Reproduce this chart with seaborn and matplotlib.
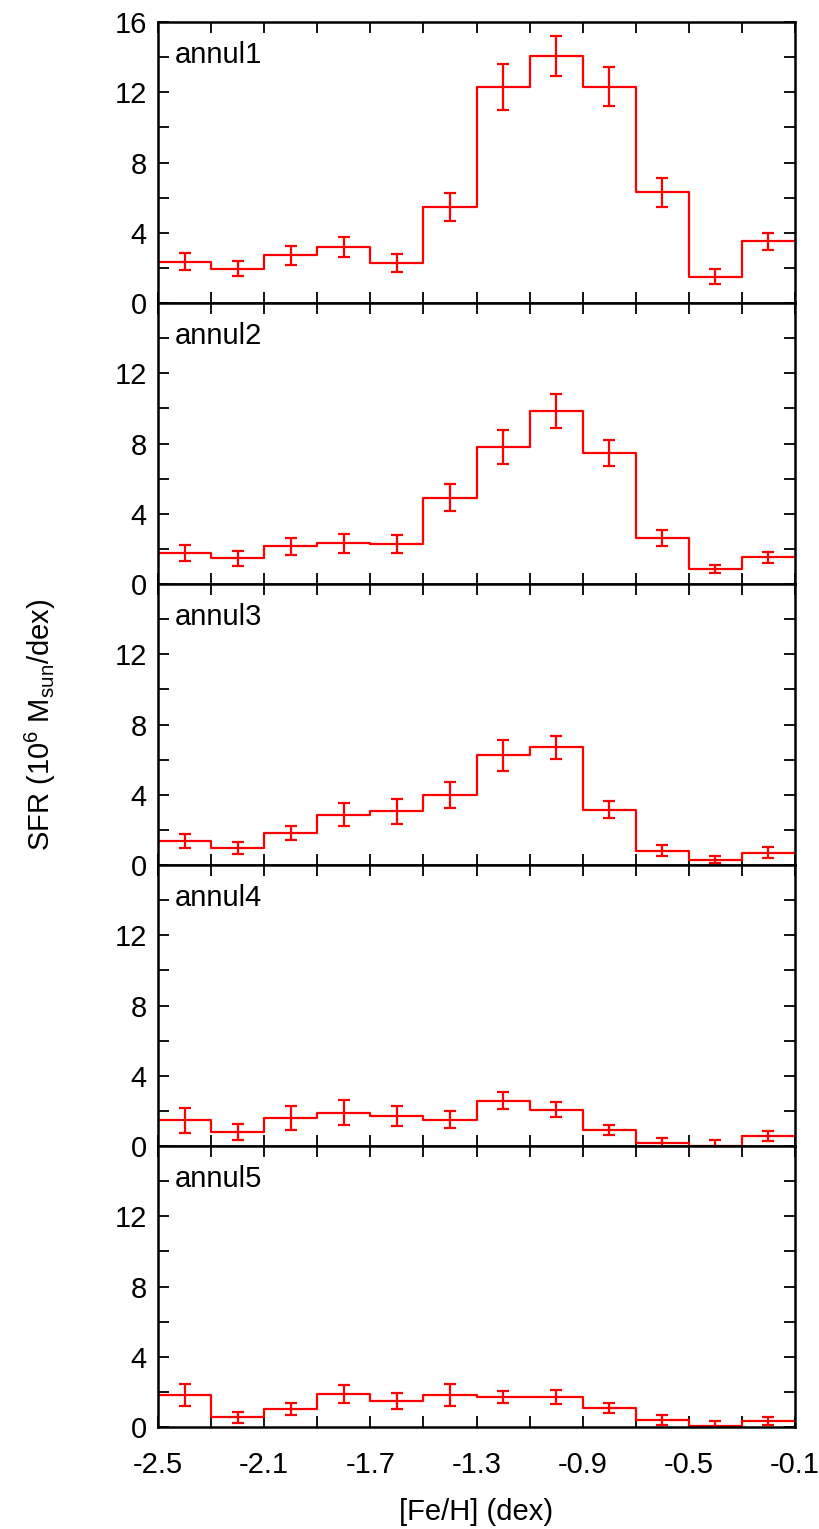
import numpy as np
import pandas as pd
import matplotlib
matplotlib.use("Agg")
import matplotlib.pyplot as plt
import seaborn as sns

# Metallicity bins ([Fe/H], dex)
bin_edges = [-2.5, -2.3, -2.1, -1.9, -1.7, -1.5, -1.3, -1.1, -0.9, -0.7, -0.5, -0.3, -0.1]
bin_centers = [-2.4, -2.2, -2.0, -1.8, -1.6, -1.4, -1.2, -1.0, -0.8, -0.6, -0.4, -0.2]

panel_names = ["annul1", "annul2", "annul3", "annul4", "annul5"]

# Star-formation rate per bin (1e6 Msun/dex) and 1-sigma errors
sfr_annul1 = [2.35, 1.95, 2.73, 3.19, 2.27, 5.48, 12.30, 14.05, 12.32, 6.30, 1.49, 3.51]
err_annul1 = [0.48, 0.43, 0.54, 0.56, 0.52, 0.79, 1.31, 1.14, 1.11, 0.83, 0.43, 0.49]

sfr_annul2 = [1.79, 1.47, 2.14, 2.31, 2.27, 4.91, 7.79, 9.85, 7.47, 2.63, 0.86, 1.53]
err_annul2 = [0.46, 0.43, 0.46, 0.53, 0.52, 0.76, 0.97, 0.97, 0.74, 0.44, 0.22, 0.32]

sfr_annul3 = [1.37, 0.97, 1.81, 2.86, 3.05, 3.99, 6.24, 6.70, 3.15, 0.82, 0.31, 0.69]
err_annul3 = [0.41, 0.32, 0.40, 0.65, 0.70, 0.73, 0.90, 0.67, 0.47, 0.31, 0.19, 0.31]

sfr_annul4 = [1.47, 0.80, 1.60, 1.90, 1.70, 1.50, 2.59, 2.06, 0.90, 0.17, 0.02, 0.57]
err_annul4 = [0.72, 0.46, 0.68, 0.71, 0.56, 0.50, 0.50, 0.43, 0.29, 0.30, 0.30, 0.31]

sfr_annul5 = [1.81, 0.55, 1.05, 1.88, 1.48, 1.83, 1.71, 1.71, 1.06, 0.42, 0.06, 0.34]
err_annul5 = [0.63, 0.33, 0.34, 0.50, 0.43, 0.63, 0.36, 0.40, 0.28, 0.28, 0.28, 0.24]

sfr_all = [sfr_annul1, sfr_annul2, sfr_annul3, sfr_annul4, sfr_annul5]
err_all = [err_annul1, err_annul2, err_annul3, err_annul4, err_annul5]

sns.set_theme(style="ticks")
plt.rcParams["font.family"] = ["Liberation Sans", "DejaVu Sans"]
plt.rcParams["mathtext.fontset"] = "custom"
plt.rcParams["mathtext.rm"] = "Liberation Sans"
plt.rcParams["mathtext.it"] = "Liberation Sans:italic"
plt.rcParams["text.color"] = "black"

FS = 21
RED = "#ff0000"

fig, axes = plt.subplots(5, 1, figsize=(8.2, 15.29), dpi=100, sharex=True)
fig.subplots_adjust(left=0.1927, right=0.9695, top=0.9856, bottom=0.0667, hspace=0)

x_ticks = np.round(np.arange(-2.5, -0.09, 0.2), 1)
x_labels = [f"{v:.1f}" if i % 2 == 0 else "" for i, v in enumerate(x_ticks)]
y_ticks = np.arange(0, 17, 2)

for i, ax in enumerate(axes):
    df = pd.DataFrame({"feh": bin_centers, "sfr": sfr_all[i]})
    sns.histplot(data=df, x="feh", weights="sfr", bins=bin_edges,
                 element="step", fill=False, color=RED, linewidth=1.6, ax=ax)
    ax.errorbar(bin_centers, sfr_all[i], yerr=err_all[i], fmt="none",
                ecolor=RED, elinewidth=1.6, capsize=4.5, capthick=1.6)

    ax.set_xlim(-2.5, -0.1)
    ax.set_ylim(0, 16)
    ax.set_xlabel("")
    ax.set_ylabel("")

    ax.set_yticks(y_ticks)
    ylabels = [str(v) if v % 4 == 0 else "" for v in y_ticks]
    if i > 0:
        ylabels[-1] = ""
    ax.set_yticklabels(ylabels, fontsize=FS)

    ax.set_xticks(x_ticks)
    ax.set_xticklabels(x_labels, fontsize=FS)

    ax.tick_params(axis="both", which="both", direction="in", length=8, width=1.3,
                   top=True, right=True, colors="black", labelcolor="black")
    ax.tick_params(axis="y", pad=8)
    ax.tick_params(axis="x", pad=17)
    if i < 4:
        ax.tick_params(axis="x", labelbottom=False)

    for spine in ax.spines.values():
        spine.set_visible(True)
        spine.set_linewidth(1.8)
        spine.set_color("black")

    ax.text(0.027, 0.853, panel_names[i], transform=ax.transAxes,
            fontsize=FS, va="baseline", ha="left", color="black")

fig.text(0.049, 0.526, r"SFR (10$^6$ M$_{\rm sun}$/dex)", rotation=90,
         fontsize=FS, va="center", ha="center", color="black")
fig.text(0.581, 0.011, "[Fe/H] (dex)", fontsize=FS, va="center", ha="center",
         color="black")

fig.savefig("out.png", dpi=100)
